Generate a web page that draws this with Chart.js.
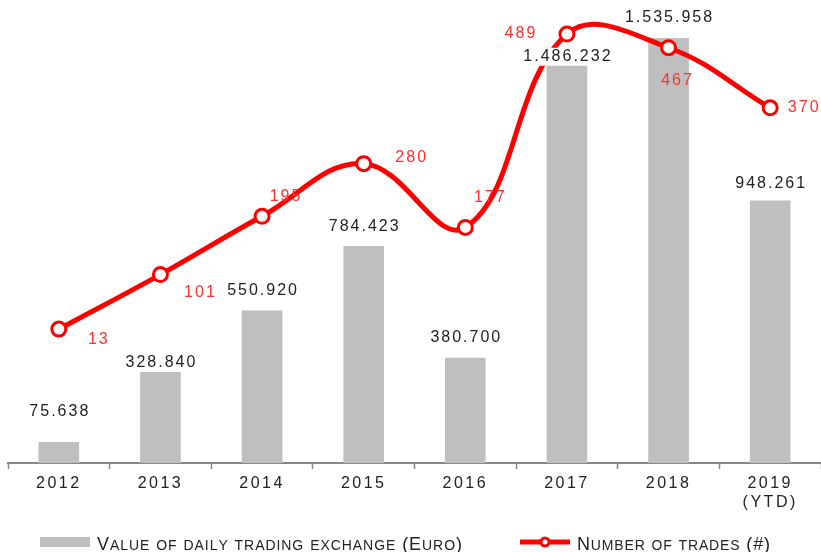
<!DOCTYPE html>
<html>
<head>
<meta charset="utf-8">
<script src="https://cdn.jsdelivr.net/npm/chart.js@4"></script>
<style>
  html, body { margin: 0; padding: 0; background: #fff; }
  #wrap { width: 821px; height: 552px; }
</style>
</head>
<body>
<div id="wrap"><canvas id="tradesChart" width="821" height="552"></canvas></div>
<script>
// Chart data
const years = ['2012', '2013', '2014', '2015', '2016', '2017', '2018', ['2019', '(YTD)']];
const dailyValue = [75638, 328840, 550920, 784423, 380700, 1486232, 1535958, 948261];
const tradeCount = [13, 101, 195, 280, 177, 489, 467, 370];

const FONT = '"Liberation Sans", Arial, sans-serif';
const RED = '#ff0000';
const GREY = '#bfbfbf';

// label nudges (dx, dy from the mark)
const barLabelShift = [-30, -9, -20, -19, -20, 5, -20, -17];
const lineLabelShift = [[39, 10], [39, 18], [23, -20], [47, -6], [24, -30], [-47, 0], [8, 33], [33, 0]];

const fmt = v => v.toLocaleString('de-DE');

// wide, spaced text like the original
const spacing = {
    id: 'spacing',
    beforeUpdate(chart) { chart.ctx.letterSpacing = '2.5px'; },
    beforeDraw(chart) { chart.ctx.letterSpacing = '2.5px'; }
};

const valueLabels = {
    id: 'valueLabels',
    afterDatasetsDraw(chart) {
        const ctx = chart.ctx;
        ctx.save();
        ctx.letterSpacing = '2px';
        ctx.font = '16px ' + FONT;
        ctx.textAlign = 'center';
        ctx.textBaseline = 'middle';

        chart.getDatasetMeta(0).data.forEach((bar, i) => {
            const txt = fmt(dailyValue[i]);
            const y = bar.y + barLabelShift[i];
            if (barLabelShift[i] > 0) {
                const w = ctx.measureText(txt).width;
                ctx.fillStyle = '#fff';
                ctx.fillRect(bar.x - w / 2 - 2, y - 9, w + 4, 18);
            }
            ctx.fillStyle = '#222';
            ctx.fillText(txt, bar.x + 1, y);
        });

        ctx.fillStyle = '#ff3030';
        chart.getDatasetMeta(1).data.forEach((pt, i) => {
            const [dx, dy] = lineLabelShift[i];
            ctx.fillText(String(tradeCount[i]), pt.x + dx + 1, pt.y + dy);
        });
        ctx.restore();
    }
};

// hand-made small caps, stretched to a given width
function smallCaps(ctx, text, x, y, width) {
    const parts = [...text].map(ch => {
        const lower = ch !== ch.toUpperCase();
        return { c: ch.toUpperCase(), font: (lower ? '14px ' : '18px ') + FONT };
    });
    ctx.letterSpacing = '0px';
    let natural = 0;
    parts.forEach(p => { ctx.font = p.font; p.w = ctx.measureText(p.c).width; natural += p.w; });
    const gap = (width - natural) / (parts.length - 1);
    parts.forEach(p => {
        ctx.font = p.font;
        ctx.fillText(p.c, x, y);
        x += p.w + gap;
    });
}

const bottomLegend = {
    id: 'bottomLegend',
    afterDraw(chart) {
        const ctx = chart.ctx;
        const y = 542;
        ctx.save();
        ctx.textBaseline = 'alphabetic';

        ctx.fillStyle = GREY;
        ctx.fillRect(40, y - 5, 50, 10);
        ctx.fillStyle = '#222';
        smallCaps(ctx, 'Value of daily trading exchange (Euro)', 97, y + 8, 365);

        ctx.strokeStyle = RED;
        ctx.lineWidth = 5;
        ctx.beginPath();
        ctx.moveTo(520, y);
        ctx.lineTo(570, y);
        ctx.stroke();
        ctx.beginPath();
        ctx.arc(545, y, 4, 0, Math.PI * 2);
        ctx.fillStyle = '#fff';
        ctx.fill();
        ctx.lineWidth = 3;
        ctx.stroke();
        ctx.fillStyle = '#222';
        smallCaps(ctx, 'Number of trades (#)', 577, y + 8, 193);
        ctx.restore();
    }
};

new Chart(document.getElementById('tradesChart'), {
    type: 'bar',
    data: {
        labels: years,
        datasets: [{
            type: 'bar',
            label: 'Value of daily trading exchange (Euro)',
            data: dailyValue,
            backgroundColor: GREY,
            barPercentage: 0.8,
            categoryPercentage: 0.5,
            yAxisID: 'y',
            order: 2
        }, {
            type: 'line',
            label: 'Number of trades (#)',
            data: tradeCount,
            borderColor: RED,
            borderWidth: 5,
            tension: 0.4,
            pointRadius: 7,
            pointBorderWidth: 3,
            pointBackgroundColor: '#fff',
            pointBorderColor: RED,
            clip: false,
            yAxisID: 'y2',
            order: 1
        }]
    },
    options: {
        responsive: false,
        animation: false,
        layout: { autoPadding: false, padding: { left: 8, right: -3, top: 0, bottom: 0 } },
        plugins: {
            legend: { display: false },
            tooltip: { enabled: false }
        },
        scales: {
            x: {
                afterFit: s => { s.height = 89; },
                grid: {
                    display: true,
                    drawOnChartArea: false,
                    offset: true,
                    tickLength: 6,
                    tickWidth: 1.5,
                    color: '#888'
                },
                border: { color: '#888', width: 2 },
                ticks: {
                    color: '#222',
                    padding: 5,
                    font: { family: FONT, size: 16 },
                    maxRotation: 0,
                    autoSkip: false
                }
            },
            y: {
                display: false,
                min: 0,
                max: 1673300
            },
            y2: {
                display: false,
                position: 'right',
                min: -203,
                max: 544
            }
        }
    },
    plugins: [spacing, valueLabels, bottomLegend]
});
</script>
</body>
</html>
